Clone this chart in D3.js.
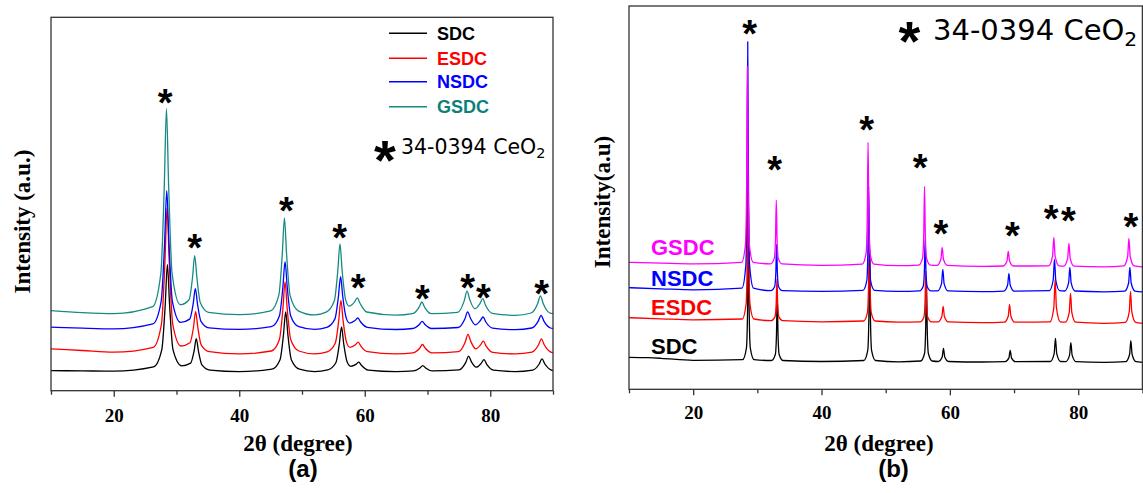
<!DOCTYPE html>
<html>
<head>
<meta charset="utf-8">
<script src="https://cdn.jsdelivr.net/npm/d3@7"></script>
<style>
  html, body { margin: 0; padding: 0; background: #fff; }
  svg { display: block; background: #fff; }
  .tick text { font-family: "Liberation Serif", "Times New Roman", serif; font-weight: bold; font-size: 19px; fill: #000; }
  .tick line { stroke: #333; stroke-width: 1.3; }
  .axis-title { font-family: "Liberation Serif", "Times New Roman", serif; font-weight: bold; fill: #000; }
  .sans-bold { font-family: "Liberation Sans", Arial, sans-serif; font-weight: bold; }
</style>
</head>
<body>
<svg id="chart" width="1143" height="493"></svg>
<script>
const THETA_DOMAIN = [10, 90];
const MAJOR_TICKS = [20, 40, 60, 80];
const MINOR_TICKS = [10, 30, 50, 70, 90];
const SAMPLE_NAMES = ["SDC", "ESDC", "NSDC", "GSDC"];
const COLORS_A = ["#000000", "#ff0000", "#0000ff", "#178a84"];
const COLORS_B = ["#000000", "#ff0000", "#0000ff", "#ff00ff"];

// panel (a): [2theta, intensity a.u.]
const sdcA = [
  [10, 20.1], [15, 19.8], [20, 19.5],
  [26.35, 23.8], [27.65, 40.8], [28.2, 85.5], [28.55, 126], [28.9, 85.5], [29.45, 40.8],
  [30.8, 24.9], [32.25, 27.6], [32.8, 39.6], [33.15, 52], [33.5, 39.6], [34.05, 25.9], [35.35, 20.6],
  [40, 19.1],
  [45.2, 21.5], [46.5, 31], [47.05, 56.1], [47.4, 78.7], [47.75, 56.1], [48.3, 31], [49.6, 21.5],
  [52, 19.1],
  [54.1, 20.9], [55.4, 28], [55.95, 46.8], [56.3, 63.7], [56.65, 46.8], [57.2, 28.6],
  [57.75, 24.4], [58.6, 26.3], [59.05, 28.5], [59.5, 25.2], [60.55, 20.6],
  [65, 19.1],
  [67.75, 19.8], [68.8, 22.7], [69.25, 25.1], [69.7, 22.7], [70.75, 19.8],
  [75.05, 20.9], [76.1, 28.3], [76.55, 34.5], [77.0, 28.9], [77.78, 23.5],
  [78.55, 27.3], [79.0, 31.1], [79.45, 26.3], [80.5, 20.5],
  [84, 19.1],
  [86.75, 20.6], [87.8, 26.7], [88.25, 31.8], [88.7, 26.7], [89.75, 20.6], [90, 20.2]
];
const esdcA = [
  [10, 41.9], [15, 40.2], [20, 38.5],
  [26.3, 43.4], [27.6, 66.6], [28.15, 127.7], [28.5, 183], [28.85, 127.7], [29.4, 66.6],
  [30.7, 44.7], [32.15, 47.9], [32.7, 63.2], [33.05, 79], [33.4, 63.2], [33.95, 45.6], [35.25, 39],
  [40, 36.8],
  [45.1, 39.7], [46.4, 51.2], [46.95, 81.4], [47.3, 108.7], [47.65, 81.4], [48.2, 51.2], [49.5, 39.7],
  [52, 36.8],
  [54.0, 38.9], [55.3, 47.5], [55.85, 70], [56.2, 90.4], [56.55, 70], [57.1, 48.3],
  [57.65, 43.3], [58.5, 45.9], [58.95, 48.6], [59.4, 44.4], [60.45, 39],
  [65, 36.8],
  [67.7, 37.9], [68.75, 42.4], [69.2, 46.2], [69.65, 42.4], [70.7, 37.9],
  [74.95, 39.1], [76.0, 48.5], [76.45, 56.3], [76.9, 49.3], [77.67, 41.9],
  [78.45, 45.8], [78.9, 49.6], [79.35, 44.5], [80.4, 38.3],
  [84, 36.8],
  [86.65, 38.6], [87.7, 45.9], [88.15, 51.9], [88.6, 45.9], [89.65, 38.6], [90, 38]
];
const nsdcA = [
  [10, 63.6], [15, 62.5], [20, 61.8],
  [26.25, 66.8], [27.55, 89], [28.1, 147.3], [28.45, 200], [28.8, 147.3], [29.35, 89],
  [30.65, 68.3], [32.1, 71.6], [32.65, 86.5], [33.0, 102], [33.35, 86.5], [33.9, 69.4], [35.2, 62.9],
  [40, 61.3],
  [45.1, 64], [46.4, 74.8], [46.95, 103.3], [47.3, 129], [47.65, 103.3], [48.2, 74.8], [49.5, 64],
  [52, 61.3],
  [53.95, 63.3], [55.25, 71.8], [55.8, 93.9], [56.15, 114], [56.5, 93.9], [57.05, 72.6],
  [57.6, 67.6], [58.45, 70.2], [58.9, 72.7], [59.35, 68.7], [60.4, 63.4],
  [65, 61.2],
  [67.65, 62.2], [68.7, 66.2], [69.15, 69.3], [69.6, 66.2], [70.65, 62.2],
  [74.9, 63.2], [75.95, 71.7], [76.4, 78.8], [76.85, 72.5], [77.62, 65.9],
  [78.4, 69.9], [78.85, 73.7], [79.3, 68.7], [80.35, 62.6],
  [84, 61],
  [86.6, 62.7], [87.65, 69.6], [88.1, 75.4], [88.55, 69.6], [89.6, 62.7], [90, 62.2]
];
const gsdcA = [
  [10, 80], [15, 78], [20, 77],
  [26.2, 84], [27.5, 117], [28.05, 204], [28.4, 282], [28.75, 204], [29.3, 117],
  [30.6, 86], [32.0, 91], [32.55, 113], [32.9, 135], [33.25, 113], [33.8, 88], [35.1, 78.4],
  [40, 76],
  [45.0, 79.9], [46.3, 95.3], [46.85, 135.8], [47.2, 172.5], [47.55, 135.8], [48.1, 95.3], [49.4, 79.9],
  [52, 75.8],
  [53.85, 78.5], [55.15, 89.9], [55.7, 119.7], [56.05, 146.7], [56.4, 119.7], [56.95, 91],
  [57.5, 84.5], [58.35, 88.5], [58.8, 92.8], [59.25, 87.4], [60.3, 78.7],
  [65, 75.6],
  [67.6, 77.1], [68.65, 83.4], [69.1, 88.7], [69.55, 83.4], [70.6, 77.1],
  [74.8, 78.3], [75.85, 89.8], [76.3, 99.5], [76.75, 90.8], [77.55, 81.9],
  [78.35, 87], [78.8, 92], [79.25, 85.4], [80.3, 77.4],
  [84, 75.4],
  [86.5, 77.7], [87.55, 87], [88.0, 94.8], [88.45, 87], [89.5, 77.7], [90, 77]
];
const peakMarksA = [
  [28.2, 297], [32.9, 152], [47.5, 189], [56.0, 161.5], [58.95, 112],
  [69.2, 100.5], [76.4, 112], [78.9, 102], [88.2, 105.5]
];

// panel (b): [2theta, intensity a.u.]
const sdcB = [
  [10, 32], [13, 31.6], [15, 31], [20, 29],
  [27.7, 29.6], [28.3, 41.5], [28.48, 81], [28.6, 160], [28.72, 81], [28.9, 41.5], [29.5, 29.6],
  [32.2, 28.8], [32.8, 34.8], [32.98, 54.9], [33.1, 95], [33.22, 54.9], [33.4, 34.8], [34.0, 28.8],
  [40, 27.8],
  [46.6, 28.8], [47.2, 38.9], [47.38, 72.5], [47.5, 140], [47.62, 72.5], [47.8, 38.9], [48.4, 28.8],
  [52, 27.5],
  [55.45, 28.3], [56.05, 35.8], [56.23, 60.5], [56.35, 110], [56.47, 60.5], [56.65, 35.8], [57.25, 28.3],
  [58.2, 27.8], [58.8, 32.3], [59.0, 41], [59.2, 32.3], [59.8, 27.8],
  [65, 27.3],
  [68.6, 27.6], [69.2, 31.4], [69.4, 39], [69.6, 31.4], [70.2, 27.6],
  [75.65, 27.8], [76.25, 35.7], [76.45, 51], [76.65, 35.7], [77.25, 27.8],
  [78.05, 27.7], [78.65, 34.2], [78.85, 46.6], [79.05, 34.2], [79.65, 27.7],
  [84, 27],
  [87.4, 27.6], [88.0, 34.8], [88.2, 48.6], [88.4, 34.8], [89.0, 27.6], [90, 27]
];
const esdcB = [
  [10, 71.6], [15, 70.5], [20, 69.5],
  [27.65, 70.3], [28.25, 85.3], [28.43, 135.2], [28.55, 235], [28.67, 135.2], [28.85, 85.3], [29.45, 70.3],
  [32.15, 68.6], [32.75, 72.4], [32.93, 84.9], [33.05, 110], [33.17, 84.9], [33.35, 72.4], [33.95, 68.6],
  [40, 67.5],
  [46.55, 68.3], [47.15, 76.7], [47.33, 104.4], [47.45, 160], [47.57, 104.4], [47.75, 76.7], [48.35, 68.3],
  [52, 67.2],
  [55.35, 67.5], [55.95, 72.1], [56.13, 87.4], [56.25, 118], [56.37, 87.4], [56.55, 72.1], [57.15, 67.5],
  [58.15, 67.4], [58.75, 72.8], [58.95, 83], [59.15, 72.8], [59.75, 67.4],
  [65, 66.6],
  [68.5, 67.1], [69.1, 73.3], [69.3, 85], [69.5, 73.3], [70.1, 67.1],
  [75.6, 67.5], [76.2, 82], [76.4, 110], [76.6, 82], [77.2, 67.5],
  [78.0, 67.1], [78.6, 77], [78.8, 96], [79.0, 77], [79.6, 67.1],
  [84, 66],
  [87.35, 67], [87.95, 77.5], [88.15, 98], [88.35, 77.5], [88.95, 67], [90, 66]
];
const nsdcB = [
  [10, 101.6], [15, 100.5], [20, 99.5],
  [27.6, 101.1], [28.2, 123.5], [28.38, 198.2], [28.5, 347.6], [28.62, 198.2], [28.8, 123.5], [29.4, 101.1],
  [32.1, 98.7], [32.7, 102.9], [32.88, 116.8], [33.0, 145], [33.12, 116.8], [33.3, 102.9], [33.9, 98.7],
  [40, 98],
  [46.45, 99], [47.05, 108.5], [47.23, 140], [47.35, 203], [47.47, 140], [47.65, 108.5], [48.25, 99],
  [52, 97.9],
  [55.25, 98.4], [55.85, 103.1], [56.03, 118.7], [56.15, 150], [56.27, 118.7], [56.45, 103.1], [57.05, 98.4],
  [58.1, 98.5], [58.7, 105.7], [58.9, 120], [59.1, 105.7], [59.7, 98.5],
  [65, 97.7],
  [68.4, 98.2], [69.0, 104.3], [69.2, 116], [69.4, 104.3], [70.0, 98.2],
  [75.5, 98.6], [76.1, 109.3], [76.3, 130], [76.5, 109.3], [77.1, 98.6],
  [77.9, 98.3], [78.5, 106.4], [78.7, 122], [78.9, 106.4], [79.5, 98.3],
  [84, 97.5],
  [87.25, 98.2], [87.85, 106.3], [88.05, 122], [88.25, 106.3], [88.85, 98.2], [90, 97.5]
];
const gsdcB = [
  [10, 127], [15, 126.2], [20, 125.5],
  [27.55, 127], [28.15, 144.8], [28.33, 204], [28.45, 322.6], [28.57, 204], [28.75, 144.8], [29.35, 127],
  [32.05, 125.4], [32.65, 131.2], [32.83, 150.5], [32.95, 189], [33.07, 150.5], [33.25, 131.2], [33.85, 125.4],
  [40, 124],
  [46.35, 125.2], [46.95, 136.3], [47.13, 173.2], [47.25, 247], [47.37, 173.2], [47.55, 136.3], [48.15, 125.2],
  [52, 123.6],
  [55.15, 124.2], [55.75, 131.4], [55.93, 155.2], [56.05, 203], [56.17, 155.2], [56.35, 131.4], [56.95, 124.2],
  [58.0, 123.9], [58.6, 130], [58.8, 142], [59.0, 130], [59.6, 123.9],
  [65, 123],
  [68.3, 123.3], [68.9, 128.3], [69.1, 138], [69.3, 128.3], [69.9, 123.3],
  [75.4, 123.4], [76.0, 133.1], [76.2, 152], [76.4, 133.1], [77.0, 123.4],
  [77.75, 123.2], [78.35, 131], [78.55, 146], [78.75, 131], [79.35, 123.2],
  [84, 122.5],
  [87.1, 123.4], [87.7, 132.8], [87.9, 151], [88.1, 132.8], [88.7, 123.4], [90, 122.5]
];
const peakMarksB = [
  [28.8, 364], [32.7, 228], [47.05, 268], [55.35, 230], [58.6, 164.5],
  [69.75, 162], [75.8, 179], [78.45, 177], [88.2, 171.5]
];

const svg = d3.select("#chart");

function drawPanel(panel) {
  const x = d3.scaleLinear().domain(THETA_DOMAIN).range([panel.left, panel.right]);
  const y = d3.scaleLinear().domain(panel.intensityDomain).range([panel.bottom, panel.top]);
  const g = svg.append("g");
  const line = d3.line()
    .x((d) => x(d[0]))
    .y((d) => y(d[1]))
    .curve(d3.curveMonotoneX);

  panel.series.forEach((values, index) => {
    g.append("path")
      .datum(values)
      .attr("d", line)
      .attr("fill", "none")
      .attr("stroke", panel.colors[index])
      .attr("stroke-width", 1.3)
      .attr("stroke-linejoin", "round");
  });

  g.append("rect")
    .attr("x", panel.left)
    .attr("y", panel.top)
    .attr("width", panel.right - panel.left)
    .attr("height", panel.bottom - panel.top)
    .attr("fill", "none")
    .attr("stroke", "#333")
    .attr("stroke-width", 1.3);

  g.append("g")
    .attr("transform", `translate(0,${panel.bottom})`)
    .call(d3.axisBottom(x).tickValues(MAJOR_TICKS).tickSize(6).tickPadding(panel.tickPadding).tickFormat(d3.format("d")))
    .call((axis) => axis.select(".domain").remove());
  g.append("g")
    .attr("transform", `translate(0,${panel.bottom})`)
    .call(d3.axisBottom(x).tickValues(MINOR_TICKS).tickSize(4).tickFormat(""))
    .call((axis) => axis.select(".domain").remove());

  g.selectAll("text.peak-mark")
    .data(panel.peakMarks)
    .join("text")
    .attr("class", "peak-mark sans-bold")
    .attr("x", (d) => x(d[0]))
    .attr("y", (d) => y(d[1]))
    .attr("dy", "0.58em")
    .attr("text-anchor", "middle")
    .style("font-size", "38px")
    .text("*");

  g.append("text")
    .attr("class", "axis-title")
    .attr("x", panel.xTitle[0])
    .attr("y", panel.xTitle[1])
    .attr("dy", "0.35em")
    .attr("text-anchor", "middle")
    .style("font-size", "23px")
    .text("2θ (degree)");

  g.append("text")
    .attr("class", "axis-title")
    .attr("transform", `translate(${panel.yTitle[0]},${panel.yTitle[1]}) rotate(-90)`)
    .attr("dy", "0.35em")
    .attr("text-anchor", "middle")
    .style("font-size", "23px")
    .text(panel.yLabel);

  g.append("text")
    .attr("class", "sans-bold")
    .attr("x", panel.caption[0])
    .attr("y", panel.caption[1])
    .attr("dy", "0.35em")
    .attr("text-anchor", "middle")
    .style("font-size", "24px")
    .text(panel.captionText);

  const ref = panel.reference;
  g.append("text")
    .attr("class", "sans-bold")
    .attr("x", ref.starX)
    .attr("y", ref.starY)
    .attr("dy", "0.58em")
    .attr("text-anchor", "middle")
    .style("font-size", `${ref.starSize}px`)
    .text("*");
  const refText = g.append("text")
    .attr("x", ref.x)
    .attr("y", ref.baseline)
    .style("font-family", "'DejaVu Sans', sans-serif")
    .style("font-size", `${ref.size}px`)
    .attr("fill", "#000");
  refText.append("tspan").text("34-0394 CeO");
  refText.append("tspan").attr("dy", "0.3em").style("font-size", "0.7em").text("2");

  return { x, y, g };
}

const panelA = drawPanel({
  left: 51, right: 553, top: 17.3, bottom: 390.7,
  intensityDomain: [0, 373.4],
  series: [sdcA, esdcA, nsdcA, gsdcA],
  colors: COLORS_A,
  peakMarks: peakMarksA,
  tickPadding: 12,
  xTitle: [298, 443],
  yTitle: [22, 221.6],
  yLabel: "Intensity (a.u.)",
  caption: [303, 469],
  captionText: "(a)",
  reference: { starX: 385, starY: 147, starSize: 56, x: 401, baseline: 153.5, size: 20.5 }
});

const legendA = panelA.g.append("g").selectAll("g")
  .data(SAMPLE_NAMES)
  .join("g")
  .attr("transform", (d, i) => `translate(0,${[33.3, 58.3, 81.7, 106.7][i]})`);
legendA.append("line")
  .attr("x1", 389).attr("x2", 427)
  .attr("stroke", (d, i) => COLORS_A[i])
  .attr("stroke-width", 1.5);
legendA.append("text")
  .attr("class", "sans-bold")
  .attr("x", 437)
  .attr("dy", "0.35em")
  .style("font-size", "18px")
  .attr("fill", (d, i) => i === 3 ? "#0e7f7a" : COLORS_A[i])
  .text((d) => d);

const panelB = drawPanel({
  left: 629, right: 1142.4, top: 6, bottom: 389.3,
  intensityDomain: [0, 383.3],
  series: [sdcB, esdcB, nsdcB, gsdcB],
  colors: COLORS_B,
  peakMarks: peakMarksB,
  tickPadding: 10,
  xTitle: [879, 442.7],
  yTitle: [602, 202],
  yLabel: "Intensity(a.u)",
  caption: [893.5, 469],
  captionText: "(b)",
  reference: { starX: 909.5, starY: 28, starSize: 56, x: 933, baseline: 39.5, size: 29 }
});

panelB.g.append("g").selectAll("text")
  .data(SAMPLE_NAMES)
  .join("text")
  .attr("class", "sans-bold")
  .attr("x", 651)
  .attr("y", (d, i) => [346.7, 307, 278, 247][i])
  .attr("dy", "0.35em")
  .style("font-size", "22px")
  .attr("fill", (d, i) => COLORS_B[i])
  .text((d) => d);
</script>
</body>
</html>
